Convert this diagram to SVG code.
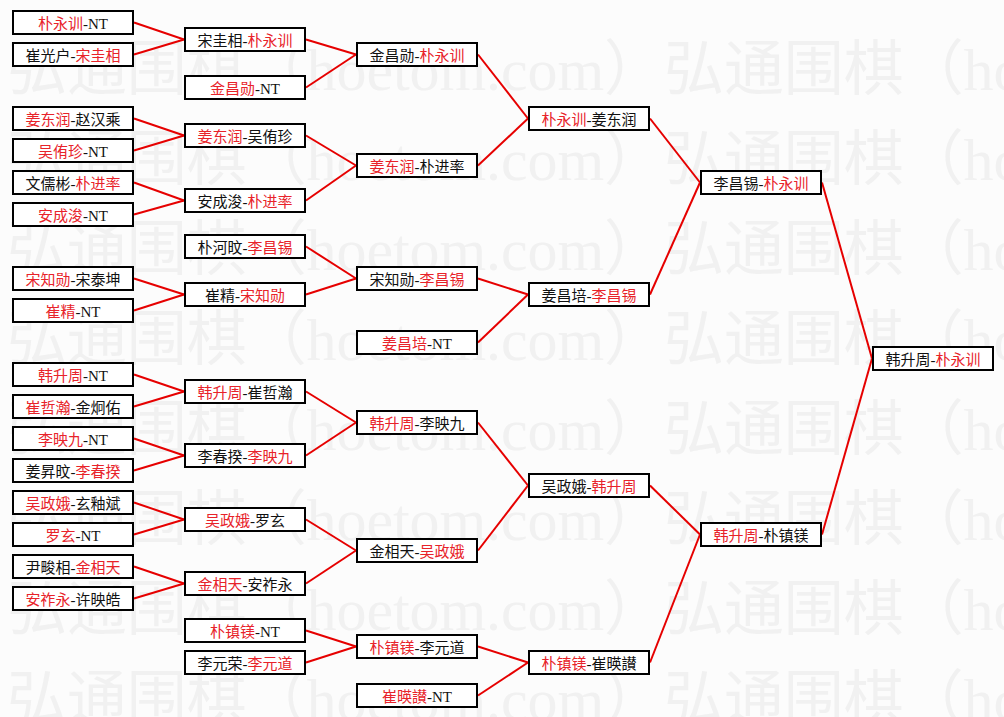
<svg xmlns="http://www.w3.org/2000/svg" width="1004" height="717" viewBox="0 0 1004 717">
<style>
.wm{font-family:"Liberation Serif","Noto Sans CJK SC",serif;font-size:60px;fill:#f1f1f1}
.box{fill:#ffffff;stroke:#000000;stroke-width:2}
.t{font-family:"Liberation Serif","Noto Sans CJK SC",serif;font-size:15px;fill:#111111;text-anchor:middle}
.r{fill:#e8232a}
.c{stroke:#e60000;stroke-width:2;fill:none}
</style>
<rect x="0" y="0" width="1004" height="717" fill="#fcfcfc"/>
<g id="watermark">
<text class="wm" x="7" y="90" textLength="657" lengthAdjust="spacing">弘通围棋（hoetom.com）</text>
<text class="wm" x="664" y="90" textLength="657" lengthAdjust="spacing">弘通围棋（hoetom.com）</text>
<text class="wm" x="7" y="180" textLength="657" lengthAdjust="spacing">弘通围棋（hoetom.com）</text>
<text class="wm" x="664" y="180" textLength="657" lengthAdjust="spacing">弘通围棋（hoetom.com）</text>
<text class="wm" x="7" y="270" textLength="657" lengthAdjust="spacing">弘通围棋（hoetom.com）</text>
<text class="wm" x="664" y="270" textLength="657" lengthAdjust="spacing">弘通围棋（hoetom.com）</text>
<text class="wm" x="7" y="360" textLength="657" lengthAdjust="spacing">弘通围棋（hoetom.com）</text>
<text class="wm" x="664" y="360" textLength="657" lengthAdjust="spacing">弘通围棋（hoetom.com）</text>
<text class="wm" x="7" y="450" textLength="657" lengthAdjust="spacing">弘通围棋（hoetom.com）</text>
<text class="wm" x="664" y="450" textLength="657" lengthAdjust="spacing">弘通围棋（hoetom.com）</text>
<text class="wm" x="7" y="540" textLength="657" lengthAdjust="spacing">弘通围棋（hoetom.com）</text>
<text class="wm" x="664" y="540" textLength="657" lengthAdjust="spacing">弘通围棋（hoetom.com）</text>
<text class="wm" x="7" y="630" textLength="657" lengthAdjust="spacing">弘通围棋（hoetom.com）</text>
<text class="wm" x="664" y="630" textLength="657" lengthAdjust="spacing">弘通围棋（hoetom.com）</text>
<text class="wm" x="7" y="720" textLength="657" lengthAdjust="spacing">弘通围棋（hoetom.com）</text>
<text class="wm" x="664" y="720" textLength="657" lengthAdjust="spacing">弘通围棋（hoetom.com）</text>
</g>
<g id="connectors">
<line class="c" x1="134" y1="22.5" x2="184" y2="39.5"/>
<line class="c" x1="134" y1="54.5" x2="184" y2="39.5"/>
<line class="c" x1="134" y1="118.5" x2="184" y2="135.5"/>
<line class="c" x1="134" y1="150.5" x2="184" y2="135.5"/>
<line class="c" x1="134" y1="182.5" x2="184" y2="200.5"/>
<line class="c" x1="134" y1="214.5" x2="184" y2="200.5"/>
<line class="c" x1="134" y1="278.5" x2="184" y2="294.5"/>
<line class="c" x1="134" y1="310.5" x2="184" y2="294.5"/>
<line class="c" x1="134" y1="374.5" x2="184" y2="391.5"/>
<line class="c" x1="134" y1="406.5" x2="184" y2="391.5"/>
<line class="c" x1="134" y1="438.5" x2="184" y2="455.5"/>
<line class="c" x1="134" y1="470.5" x2="184" y2="455.5"/>
<line class="c" x1="134" y1="502.5" x2="184" y2="519.5"/>
<line class="c" x1="134" y1="534.5" x2="184" y2="519.5"/>
<line class="c" x1="134" y1="566.5" x2="184" y2="583.5"/>
<line class="c" x1="134" y1="598.5" x2="184" y2="583.5"/>
<line class="c" x1="306" y1="39.5" x2="356" y2="54.5"/>
<line class="c" x1="306" y1="87.5" x2="356" y2="54.5"/>
<line class="c" x1="306" y1="135.5" x2="356" y2="165.5"/>
<line class="c" x1="306" y1="200.5" x2="356" y2="165.5"/>
<line class="c" x1="306" y1="246.5" x2="356" y2="278.5"/>
<line class="c" x1="306" y1="294.5" x2="356" y2="278.5"/>
<line class="c" x1="306" y1="391.5" x2="356" y2="422.5"/>
<line class="c" x1="306" y1="455.5" x2="356" y2="422.5"/>
<line class="c" x1="306" y1="519.5" x2="356" y2="550.5"/>
<line class="c" x1="306" y1="583.5" x2="356" y2="550.5"/>
<line class="c" x1="306" y1="630.5" x2="356" y2="646.5"/>
<line class="c" x1="306" y1="662.5" x2="356" y2="646.5"/>
<line class="c" x1="478" y1="54.5" x2="528" y2="118.5"/>
<line class="c" x1="478" y1="165.5" x2="528" y2="118.5"/>
<line class="c" x1="478" y1="278.5" x2="528" y2="294.5"/>
<line class="c" x1="478" y1="342.5" x2="528" y2="294.5"/>
<line class="c" x1="478" y1="422.5" x2="528" y2="485.5"/>
<line class="c" x1="478" y1="550.5" x2="528" y2="485.5"/>
<line class="c" x1="478" y1="646.5" x2="528" y2="662.5"/>
<line class="c" x1="478" y1="695.5" x2="528" y2="662.5"/>
<line class="c" x1="650" y1="118.5" x2="700" y2="182.5"/>
<line class="c" x1="650" y1="294.5" x2="700" y2="182.5"/>
<line class="c" x1="650" y1="485.5" x2="700" y2="534.5"/>
<line class="c" x1="650" y1="662.5" x2="700" y2="534.5"/>
<line class="c" x1="822" y1="182.5" x2="872" y2="358.5"/>
<line class="c" x1="822" y1="534.5" x2="872" y2="358.5"/>
</g>
<g id="r1-01"><rect class="box" x="13" y="11" width="120" height="23"/><text class="t" x="73" y="29"><tspan class="r">朴永训</tspan>-NT</text></g>
<g id="r1-02"><rect class="box" x="13" y="43" width="120" height="23"/><text class="t" x="73" y="61">崔光户-<tspan class="r">宋圭相</tspan></text></g>
<g id="r1-03"><rect class="box" x="13" y="107" width="120" height="23"/><text class="t" x="73" y="125"><tspan class="r">姜东润</tspan>-赵汉乘</text></g>
<g id="r1-04"><rect class="box" x="13" y="139" width="120" height="23"/><text class="t" x="73" y="157"><tspan class="r">吴侑珍</tspan>-NT</text></g>
<g id="r1-05"><rect class="box" x="13" y="171" width="120" height="23"/><text class="t" x="73" y="189">文儒彬-<tspan class="r">朴进率</tspan></text></g>
<g id="r1-06"><rect class="box" x="13" y="203" width="120" height="23"/><text class="t" x="73" y="221"><tspan class="r">安成浚</tspan>-NT</text></g>
<g id="r1-07"><rect class="box" x="13" y="267" width="120" height="23"/><text class="t" x="73" y="285"><tspan class="r">宋知勋</tspan>-宋泰坤</text></g>
<g id="r1-08"><rect class="box" x="13" y="299" width="120" height="23"/><text class="t" x="73" y="317"><tspan class="r">崔精</tspan>-NT</text></g>
<g id="r1-09"><rect class="box" x="13" y="363" width="120" height="23"/><text class="t" x="73" y="381"><tspan class="r">韩升周</tspan>-NT</text></g>
<g id="r1-10"><rect class="box" x="13" y="395" width="120" height="23"/><text class="t" x="73" y="413"><tspan class="r">崔哲瀚</tspan>-金炯佑</text></g>
<g id="r1-11"><rect class="box" x="13" y="427" width="120" height="23"/><text class="t" x="73" y="445"><tspan class="r">李映九</tspan>-NT</text></g>
<g id="r1-12"><rect class="box" x="13" y="459" width="120" height="23"/><text class="t" x="73" y="477">姜昇旼-<tspan class="r">李春揆</tspan></text></g>
<g id="r1-13"><rect class="box" x="13" y="491" width="120" height="23"/><text class="t" x="73" y="509"><tspan class="r">吴政娥</tspan>-玄釉斌</text></g>
<g id="r1-14"><rect class="box" x="13" y="523" width="120" height="23"/><text class="t" x="73" y="541"><tspan class="r">罗玄</tspan>-NT</text></g>
<g id="r1-15"><rect class="box" x="13" y="555" width="120" height="23"/><text class="t" x="73" y="573">尹畯相-<tspan class="r">金相天</tspan></text></g>
<g id="r1-16"><rect class="box" x="13" y="587" width="120" height="23"/><text class="t" x="73" y="605"><tspan class="r">安祚永</tspan>-许映皓</text></g>
<g id="r2-01"><rect class="box" x="185" y="28" width="120" height="23"/><text class="t" x="245" y="46">宋圭相-<tspan class="r">朴永训</tspan></text></g>
<g id="r2-02"><rect class="box" x="185" y="76" width="120" height="23"/><text class="t" x="245" y="94"><tspan class="r">金昌勋</tspan>-NT</text></g>
<g id="r2-03"><rect class="box" x="185" y="124" width="120" height="23"/><text class="t" x="245" y="142"><tspan class="r">姜东润</tspan>-吴侑珍</text></g>
<g id="r2-04"><rect class="box" x="185" y="189" width="120" height="23"/><text class="t" x="245" y="207">安成浚-<tspan class="r">朴进率</tspan></text></g>
<g id="r2-05"><rect class="box" x="185" y="235" width="120" height="23"/><text class="t" x="245" y="253">朴河旼-<tspan class="r">李昌锡</tspan></text></g>
<g id="r2-06"><rect class="box" x="185" y="283" width="120" height="23"/><text class="t" x="245" y="301">崔精-<tspan class="r">宋知勋</tspan></text></g>
<g id="r2-07"><rect class="box" x="185" y="380" width="120" height="23"/><text class="t" x="245" y="398"><tspan class="r">韩升周</tspan>-崔哲瀚</text></g>
<g id="r2-08"><rect class="box" x="185" y="444" width="120" height="23"/><text class="t" x="245" y="462">李春揆-<tspan class="r">李映九</tspan></text></g>
<g id="r2-09"><rect class="box" x="185" y="508" width="120" height="23"/><text class="t" x="245" y="526"><tspan class="r">吴政娥</tspan>-罗玄</text></g>
<g id="r2-10"><rect class="box" x="185" y="572" width="120" height="23"/><text class="t" x="245" y="590"><tspan class="r">金相天</tspan>-安祚永</text></g>
<g id="r2-11"><rect class="box" x="185" y="619" width="120" height="23"/><text class="t" x="245" y="637"><tspan class="r">朴镇镁</tspan>-NT</text></g>
<g id="r2-12"><rect class="box" x="185" y="651" width="120" height="23"/><text class="t" x="245" y="669">李元荣-<tspan class="r">李元道</tspan></text></g>
<g id="r3-01"><rect class="box" x="357" y="43" width="120" height="23"/><text class="t" x="417" y="61">金昌勋-<tspan class="r">朴永训</tspan></text></g>
<g id="r3-02"><rect class="box" x="357" y="154" width="120" height="23"/><text class="t" x="417" y="172"><tspan class="r">姜东润</tspan>-朴进率</text></g>
<g id="r3-03"><rect class="box" x="357" y="267" width="120" height="23"/><text class="t" x="417" y="285">宋知勋-<tspan class="r">李昌锡</tspan></text></g>
<g id="r3-04"><rect class="box" x="357" y="331" width="120" height="23"/><text class="t" x="417" y="349"><tspan class="r">姜昌培</tspan>-NT</text></g>
<g id="r3-05"><rect class="box" x="357" y="411" width="120" height="23"/><text class="t" x="417" y="429"><tspan class="r">韩升周</tspan>-李映九</text></g>
<g id="r3-06"><rect class="box" x="357" y="539" width="120" height="23"/><text class="t" x="417" y="557">金相天-<tspan class="r">吴政娥</tspan></text></g>
<g id="r3-07"><rect class="box" x="357" y="635" width="120" height="23"/><text class="t" x="417" y="653"><tspan class="r">朴镇镁</tspan>-李元道</text></g>
<g id="r3-08"><rect class="box" x="357" y="684" width="120" height="23"/><text class="t" x="417" y="702"><tspan class="r">崔暎讃</tspan>-NT</text></g>
<g id="r4-01"><rect class="box" x="529" y="107" width="120" height="23"/><text class="t" x="589" y="125"><tspan class="r">朴永训</tspan>-姜东润</text></g>
<g id="r4-02"><rect class="box" x="529" y="283" width="120" height="23"/><text class="t" x="589" y="301">姜昌培-<tspan class="r">李昌锡</tspan></text></g>
<g id="r4-03"><rect class="box" x="529" y="474" width="120" height="23"/><text class="t" x="589" y="492">吴政娥-<tspan class="r">韩升周</tspan></text></g>
<g id="r4-04"><rect class="box" x="529" y="651" width="120" height="23"/><text class="t" x="589" y="669"><tspan class="r">朴镇镁</tspan>-崔暎讃</text></g>
<g id="r5-01"><rect class="box" x="701" y="171" width="120" height="23"/><text class="t" x="761" y="189">李昌锡-<tspan class="r">朴永训</tspan></text></g>
<g id="r5-02"><rect class="box" x="701" y="523" width="120" height="23"/><text class="t" x="761" y="541"><tspan class="r">韩升周</tspan>-朴镇镁</text></g>
<g id="final"><rect class="box" x="873" y="347" width="120" height="23"/><text class="t" x="933" y="365">韩升周-<tspan class="r">朴永训</tspan></text></g>
</svg>
